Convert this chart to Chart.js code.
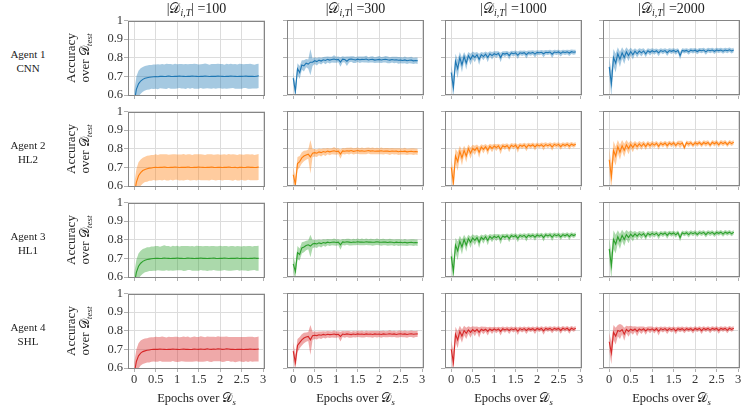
<!DOCTYPE html>
<html><head><meta charset="utf-8">
<script src="https://cdn.jsdelivr.net/npm/chart.js@4.4.0/dist/chart.umd.min.js"></script>
<style>
html,body{margin:0;padding:0;background:#fff;}
body{width:747px;height:407px;position:relative;overflow:hidden;font-family:"Liberation Serif",serif;color:#222;}
.t{position:absolute;white-space:nowrap;line-height:1;}
.ctr{text-align:center;}
.pan{position:absolute;}
sub{font-size:70%;vertical-align:-0.3em;line-height:0;}
.D{font-family:"DejaVu Sans","DejaVu Serif","Noto Sans",serif;font-style:normal;}
</style></head><body>
<script>
// ---------- data ----------
const agentNames = ["Agent 1","Agent 2","Agent 3","Agent 4"];
const agentTypes = ["CNN","HL2","HL1","SHL"];
const datasetSizes = [100,300,1000,2000];
const xTickValues = [0,0.5,1,1.5,2,2.5,3];
const yTickValues = [0.6,0.7,0.8,0.9,1];
const yTickLabels = ["0.6","0.7","0.8","0.9","1"];
const xTickLabels = ["0","0.5","1","1.5","2","2.5","3"];
const epochs = [0,.05,.1,.15,.2,.25,.3,.35,.4,.45,
 .5,.55,.6,.65,.7,.75,.8,.85,.9,.95,
 1,1.05,1.1,1.15,1.2,1.25,1.3,1.35,1.4,1.45,
 1.5,1.55,1.6,1.65,1.7,1.75,1.8,1.85,1.9,1.95,
 2,2.05,2.1,2.15,2.2,2.25,2.3,2.35,2.4,2.45,
 2.5,2.55,2.6,2.65,2.7,2.75,2.8,2.85,2.9];

// Agent 1 CNN
const cnn100Mean = [.56,.63,.66,.675,.684,.69,.693,.695,.697,.698,
 .699,.698,.700,.701,.699,.700,.702,.700,.699,.701,
 .700,.702,.701,.700,.699,.701,.700,.702,.701,.700,
 .699,.701,.700,.702,.701,.699,.700,.701,.700,.702,
 .701,.700,.699,.701,.700,.702,.701,.700,.699,.701,
 .700,.701,.702,.700,.701,.700,.699,.701,.703];
const cnn100Spread = [.06,.07,.07,.068,.066,.066,.065,.066,.064,.066,
 .065,.067,.064,.066,.065,.068,.064,.066,.065,.067,
 .065,.064,.066,.065,.067,.064,.066,.065,.067,.066,
 .065,.064,.066,.067,.065,.064,.066,.065,.067,.066,
 .065,.066,.064,.067,.065,.066,.064,.066,.065,.067,
 .066,.064,.065,.066,.067,.065,.064,.066,.065];
const cnn300Mean = [.69,.62,.74,.72,.76,.755,.77,.765,.775,.775,
 .783,.778,.786,.781,.788,.784,.79,.786,.789,.792,
 .788,.79,.776,.791,.789,.78,.79,.792,.789,.787,
 .791,.788,.79,.789,.792,.787,.789,.79,.786,.788,
 .79,.787,.789,.791,.788,.786,.789,.787,.788,.785,
 .786,.784,.787,.783,.785,.786,.782,.784,.783];
const cnn300Spread = [.03,.04,.03,.035,.025,.03,.022,.025,.07,.02,
 .018,.02,.016,.018,.015,.02,.016,.018,.015,.02,
 .016,.015,.025,.016,.015,.025,.016,.015,.018,.016,
 .015,.017,.015,.016,.018,.015,.016,.017,.015,.016,
 .018,.016,.015,.017,.018,.016,.015,.017,.016,.018,
 .017,.016,.018,.017,.016,.018,.017,.016,.017];
const cnn1000Mean = [.72,.64,.78,.74,.80,.76,.805,.77,.81,.79,
 .812,.80,.815,.79,.815,.805,.818,.80,.82,.81,
 .82,.815,.822,.80,.822,.818,.823,.81,.824,.82,
 .825,.812,.825,.822,.826,.815,.826,.823,.827,.818,
 .827,.825,.828,.82,.828,.826,.829,.818,.829,.827,
 .83,.822,.83,.827,.83,.824,.831,.828,.83];
const cnn1000Spread = [.04,.06,.04,.05,.03,.04,.025,.035,.02,.03,
 .02,.025,.015,.03,.015,.02,.014,.025,.013,.02,
 .013,.018,.012,.025,.012,.015,.012,.02,.012,.015,
 .012,.02,.012,.014,.012,.02,.012,.014,.012,.018,
 .012,.013,.012,.018,.012,.013,.012,.02,.012,.013,
 .012,.016,.012,.013,.012,.016,.012,.013,.012];
const cnn2000Mean = [.75,.66,.80,.77,.82,.79,.825,.80,.83,.81,
 .832,.815,.834,.82,.834,.825,.835,.82,.836,.828,
 .836,.83,.836,.825,.837,.832,.837,.826,.837,.833,
 .838,.83,.838,.81,.838,.834,.838,.83,.839,.835,
 .839,.832,.839,.836,.84,.83,.84,.836,.84,.833,
 .84,.837,.84,.834,.84,.836,.841,.835,.84];
const cnn2000Spread = [.05,.07,.045,.05,.035,.04,.03,.035,.025,.03,
 .02,.025,.015,.02,.015,.02,.014,.018,.013,.017,
 .013,.015,.012,.018,.012,.014,.012,.018,.012,.014,
 .012,.015,.012,.02,.012,.013,.012,.015,.012,.013,
 .012,.014,.012,.013,.012,.015,.012,.013,.012,.014,
 .012,.013,.012,.014,.012,.013,.012,.013,.012];

// Agent 2 HL2
const hl2_100Mean = [.55,.62,.655,.672,.683,.689,.693,.696,.697,.699,
 .700,.699,.701,.700,.702,.700,.699,.701,.700,.702,
 .701,.699,.700,.701,.700,.702,.700,.699,.701,.700,
 .702,.701,.700,.699,.701,.700,.702,.700,.699,.701,
 .700,.699,.701,.700,.702,.700,.699,.701,.698,.700,
 .701,.699,.700,.702,.700,.701,.699,.700,.702];
const hl2_100Spread = [.06,.07,.072,.07,.069,.068,.07,.068,.069,.067,
 .07,.068,.069,.071,.068,.07,.069,.068,.07,.069,
 .068,.07,.069,.071,.068,.069,.07,.068,.069,.07,
 .068,.07,.069,.068,.07,.071,.069,.068,.07,.069,
 .068,.07,.069,.068,.07,.069,.071,.068,.069,.07,
 .068,.069,.07,.068,.069,.07,.068,.069,.07];
const hl2_300Mean = [.66,.61,.72,.73,.75,.76,.765,.77,.755,.775,
 .778,.775,.782,.778,.784,.78,.786,.782,.785,.788,
 .784,.786,.77,.787,.785,.788,.786,.789,.785,.787,
 .789,.786,.788,.785,.787,.789,.786,.788,.785,.787,
 .786,.788,.785,.787,.786,.784,.787,.785,.786,.783,
 .785,.784,.786,.782,.784,.785,.783,.784,.782];
const hl2_300Spread = [.04,.04,.035,.03,.03,.028,.025,.025,.09,.022,
 .02,.02,.018,.02,.017,.02,.017,.018,.016,.02,
 .017,.016,.025,.016,.017,.016,.018,.016,.017,.016,
 .017,.016,.018,.016,.017,.016,.017,.018,.016,.017,
 .016,.018,.017,.016,.017,.018,.016,.017,.016,.018,
 .017,.016,.018,.017,.016,.017,.018,.016,.017];
const hl2_1000Mean = [.70,.62,.76,.73,.785,.75,.79,.76,.80,.775,
 .80,.79,.805,.78,.808,.795,.81,.79,.812,.80,
 .813,.805,.814,.795,.815,.808,.816,.80,.817,.81,
 .818,.80,.818,.812,.819,.805,.819,.813,.82,.808,
 .82,.814,.82,.81,.821,.815,.821,.808,.822,.816,
 .822,.81,.822,.816,.823,.812,.823,.817,.823];
const hl2_1000Spread = [.05,.06,.04,.05,.03,.04,.025,.035,.022,.03,
 .02,.025,.016,.03,.015,.022,.014,.025,.013,.02,
 .013,.018,.012,.025,.012,.016,.012,.02,.012,.015,
 .012,.022,.012,.014,.012,.02,.012,.014,.012,.018,
 .012,.013,.012,.02,.012,.013,.012,.02,.012,.013,
 .012,.017,.012,.013,.012,.017,.012,.013,.012];
const hl2_2000Mean = [.74,.65,.79,.76,.81,.78,.815,.79,.82,.80,
 .822,.805,.824,.81,.825,.812,.826,.81,.827,.815,
 .827,.818,.828,.812,.828,.82,.829,.815,.829,.821,
 .83,.816,.83,.822,.83,.805,.831,.823,.831,.818,
 .831,.824,.832,.82,.832,.825,.832,.818,.833,.825,
 .833,.82,.833,.826,.833,.821,.834,.826,.834];
const hl2_2000Spread = [.06,.07,.05,.05,.035,.04,.03,.035,.025,.03,
 .02,.025,.016,.02,.015,.02,.014,.018,.013,.017,
 .013,.015,.012,.018,.012,.014,.012,.018,.012,.014,
 .012,.015,.012,.02,.012,.013,.012,.015,.012,.013,
 .012,.014,.012,.013,.012,.015,.012,.013,.012,.014,
 .012,.013,.012,.014,.012,.013,.012,.013,.012];

// Agent 3 HL1
const hl1_100Mean = [.56,.625,.658,.674,.684,.69,.694,.696,.698,.699,
 .700,.701,.699,.700,.702,.701,.700,.699,.701,.700,
 .702,.700,.701,.699,.700,.702,.701,.700,.699,.701,
 .700,.702,.700,.701,.699,.700,.701,.702,.700,.699,
 .701,.700,.702,.701,.699,.700,.701,.700,.702,.699,
 .700,.701,.700,.699,.701,.700,.702,.700,.701];
const hl1_100Spread = [.06,.068,.068,.067,.066,.065,.066,.064,.066,.065,
 .067,.065,.064,.066,.068,.065,.066,.064,.067,.065,
 .066,.064,.065,.067,.066,.065,.064,.066,.065,.067,
 .066,.064,.065,.066,.067,.065,.066,.064,.065,.066,
 .067,.065,.064,.066,.065,.067,.066,.064,.065,.066,
 .064,.066,.065,.067,.066,.064,.065,.066,.067];
const hl1_300Mean = [.67,.63,.73,.72,.755,.76,.768,.772,.765,.776,
 .779,.776,.782,.778,.784,.781,.786,.783,.785,.787,
 .784,.786,.772,.787,.785,.788,.786,.784,.787,.785,
 .788,.786,.787,.785,.788,.786,.787,.785,.786,.788,
 .786,.785,.787,.786,.784,.786,.785,.783,.786,.784,
 .785,.783,.785,.782,.784,.785,.783,.784,.783];
const hl1_300Spread = [.045,.04,.035,.032,.03,.028,.025,.024,.06,.022,
 .02,.021,.018,.02,.017,.019,.017,.018,.016,.019,
 .017,.016,.026,.016,.017,.016,.018,.016,.017,.016,
 .017,.016,.018,.016,.017,.016,.017,.018,.016,.017,
 .016,.018,.017,.016,.017,.018,.016,.017,.016,.018,
 .017,.016,.018,.017,.016,.017,.018,.016,.017];
const hl1_1000Mean = [.71,.63,.77,.74,.79,.76,.80,.77,.805,.785,
 .808,.795,.81,.785,.812,.80,.815,.795,.816,.805,
 .817,.81,.818,.80,.819,.812,.82,.805,.821,.815,
 .821,.806,.822,.816,.822,.81,.823,.817,.823,.812,
 .824,.818,.824,.81,.825,.819,.825,.812,.826,.82,
 .826,.814,.826,.82,.827,.815,.827,.821,.827];
const hl1_1000Spread = [.05,.06,.04,.05,.03,.04,.025,.035,.02,.03,
 .02,.025,.016,.03,.015,.022,.014,.025,.013,.02,
 .013,.018,.012,.025,.012,.016,.012,.02,.012,.015,
 .012,.02,.012,.014,.012,.02,.012,.014,.012,.018,
 .012,.013,.012,.02,.012,.013,.012,.02,.012,.013,
 .012,.017,.012,.013,.012,.017,.012,.013,.012];
const hl1_2000Mean = [.75,.66,.80,.775,.815,.79,.822,.80,.826,.81,
 .828,.815,.83,.818,.831,.822,.832,.815,.833,.824,
 .833,.826,.834,.82,.834,.828,.835,.822,.835,.829,
 .835,.825,.836,.81,.836,.83,.836,.826,.837,.831,
 .837,.827,.837,.832,.838,.826,.838,.832,.838,.828,
 .838,.833,.839,.829,.839,.833,.839,.83,.839];
const hl1_2000Spread = [.06,.07,.05,.05,.035,.04,.03,.035,.025,.03,
 .02,.025,.016,.02,.015,.02,.014,.018,.013,.017,
 .013,.015,.012,.018,.012,.014,.012,.018,.012,.014,
 .012,.015,.012,.02,.012,.013,.012,.015,.012,.013,
 .012,.014,.012,.013,.012,.015,.012,.013,.012,.014,
 .012,.013,.012,.014,.012,.013,.012,.013,.012];

// Agent 4 SHL
const shl100Mean = [.57,.635,.665,.68,.688,.692,.695,.697,.699,.700,
 .701,.700,.702,.701,.700,.699,.701,.700,.702,.701,
 .700,.699,.701,.702,.700,.701,.699,.700,.702,.701,
 .700,.702,.701,.700,.703,.701,.700,.702,.701,.703,
 .702,.700,.701,.703,.702,.700,.701,.699,.700,.701,
 .700,.699,.701,.700,.702,.701,.700,.701,.702];
const shl100Spread = [.06,.065,.068,.067,.066,.066,.065,.067,.066,.065,
 .067,.066,.065,.068,.066,.065,.067,.066,.065,.067,
 .068,.066,.065,.067,.066,.068,.065,.066,.067,.065,
 .066,.068,.067,.065,.066,.067,.068,.066,.065,.067,
 .066,.068,.067,.066,.065,.067,.066,.068,.067,.065,
 .066,.067,.065,.068,.066,.067,.065,.066,.067];
const shl300Mean = [.69,.63,.72,.735,.75,.76,.765,.768,.75,.772,
 .775,.773,.777,.775,.779,.776,.78,.778,.779,.781,
 .778,.78,.768,.781,.779,.782,.78,.778,.781,.779,
 .782,.78,.781,.779,.782,.78,.781,.779,.782,.78,
 .781,.779,.782,.78,.781,.783,.78,.782,.779,.781,
 .783,.78,.782,.779,.781,.783,.78,.781,.782];
const shl300Spread = [.05,.04,.035,.03,.03,.028,.025,.024,.08,.022,
 .02,.021,.018,.02,.017,.019,.017,.018,.016,.019,
 .017,.016,.026,.016,.017,.016,.018,.016,.017,.016,
 .017,.016,.018,.016,.017,.016,.017,.018,.016,.017,
 .016,.018,.017,.016,.017,.018,.016,.017,.016,.018,
 .017,.016,.018,.017,.016,.017,.018,.016,.017];
const shl1000Mean = [.70,.63,.78,.75,.795,.77,.80,.785,.803,.79,
 .805,.795,.806,.79,.807,.80,.807,.795,.808,.80,
 .808,.802,.808,.795,.809,.803,.809,.80,.809,.804,
 .81,.796,.81,.804,.81,.80,.81,.805,.81,.80,
 .811,.805,.811,.798,.811,.806,.811,.802,.811,.806,
 .811,.80,.812,.806,.812,.80,.812,.806,.812];
const shl1000Spread = [.05,.06,.04,.045,.03,.035,.025,.03,.02,.028,
 .018,.025,.015,.028,.014,.02,.013,.022,.012,.018,
 .012,.016,.012,.022,.012,.015,.012,.018,.012,.014,
 .012,.02,.012,.014,.012,.018,.012,.013,.012,.018,
 .012,.013,.012,.02,.012,.013,.012,.017,.012,.013,
 .012,.017,.012,.013,.012,.017,.012,.013,.012];
const shl2000Mean = [.74,.68,.79,.77,.80,.795,.805,.78,.806,.795,
 .807,.80,.808,.795,.808,.802,.809,.798,.809,.803,
 .809,.80,.81,.796,.81,.804,.81,.80,.81,.804,
 .81,.798,.81,.805,.81,.801,.81,.805,.81,.80,
 .811,.805,.811,.799,.811,.805,.811,.802,.811,.806,
 .811,.80,.811,.806,.811,.801,.812,.806,.812];
const shl2000Spread = [.05,.06,.04,.045,.03,.04,.025,.035,.02,.028,
 .018,.022,.015,.025,.014,.02,.013,.02,.012,.018,
 .012,.016,.012,.022,.012,.015,.012,.018,.012,.014,
 .012,.018,.012,.014,.012,.016,.012,.013,.012,.016,
 .012,.013,.012,.018,.012,.013,.012,.016,.012,.013,
 .012,.017,.012,.013,.012,.016,.012,.013,.012];

const panelMeans = [
 [cnn100Mean, cnn300Mean, cnn1000Mean, cnn2000Mean],
 [hl2_100Mean, hl2_300Mean, hl2_1000Mean, hl2_2000Mean],
 [hl1_100Mean, hl1_300Mean, hl1_1000Mean, hl1_2000Mean],
 [shl100Mean, shl300Mean, shl1000Mean, shl2000Mean]];
const panelSpreads = [
 [cnn100Spread, cnn300Spread, cnn1000Spread, cnn2000Spread],
 [hl2_100Spread, hl2_300Spread, hl2_1000Spread, hl2_2000Spread],
 [hl1_100Spread, hl1_300Spread, hl1_1000Spread, hl1_2000Spread],
 [shl100Spread, shl300Spread, shl1000Spread, shl2000Spread]];

// ---------- styles / layout ----------
const lineColors = ["#1f77b4","#ff7f0e","#2ca02c","#d62728"];
const bandColors = ["rgba(31,119,180,0.4)","rgba(255,127,14,0.4)","rgba(44,160,44,0.4)","rgba(214,39,40,0.4)"];
const PL = [128,287,445,603], PT = [20,111,202,293];
const PW = 137, PH = 75, YW = 40, XH = 24, PAD = 8, PR = 3;
const FONT = "'Liberation Serif', serif";
const DS = '<span class="D">𝒟</span>';

function addText(html, left, top, cls, extra){
  const d = document.createElement('div');
  d.className = 't ' + (cls||'');
  d.innerHTML = html;
  d.style.left = left + 'px'; d.style.top = top + 'px';
  if (extra) Object.assign(d.style, extra);
  document.body.appendChild(d);
  return d;
}

const framePlugin = {
  id:'frame',
  afterDraw(chart){
    const {ctx, chartArea:a} = chart;
    ctx.save(); ctx.strokeStyle = '#858585'; ctx.lineWidth = 1;
    ctx.strokeRect(Math.round(a.left)+0.5, Math.round(a.top)+0.5, Math.round(a.right-a.left)-1, Math.round(a.bottom-a.top)-1);
    ctx.restore();
  }
};

function makePanel(r, c){
  const W = YW + PW + PR, H = PAD + PH + XH;
  const cv = document.createElement('canvas');
  cv.width = W; cv.height = H;
  cv.className = 'pan';
  cv.style.left = (PL[c]-YW) + 'px'; cv.style.top = (PT[r]-PAD) + 'px';
  cv.style.width = W + 'px'; cv.style.height = H + 'px';
  document.body.appendChild(cv);
  const mean = panelMeans[r][c], sp = panelSpreads[r][c];
  const lower = epochs.map((x,i)=>({x, y: mean[i]-sp[i]}));
  const upper = epochs.map((x,i)=>({x, y: mean[i]+sp[i]}));
  const mid = epochs.map((x,i)=>({x, y: mean[i]}));
  new Chart(cv, {
    type:'line',
    data:{datasets:[
      {data: lower, borderWidth:0, pointRadius:0, fill:false, borderColor:'rgba(0,0,0,0)'},
      {data: upper, borderWidth:0, pointRadius:0, fill:'-1', backgroundColor: bandColors[r], borderColor:'rgba(0,0,0,0)'},
      {data: mid, borderWidth:1.1, pointRadius:0, fill:false, borderColor: lineColors[r]}
    ]},
    options:{
      responsive:false, animation:false, devicePixelRatio:1,
      layout:{padding:{top:PAD, right:PR, left:0, bottom:0}},
      plugins:{legend:{display:false}, tooltip:{enabled:false}},
      elements:{line:{tension:0}},
      scales:{
        x:{type:'linear', min:-0.145, max:3.045,
          afterBuildTicks: s => { s.ticks = xTickValues.map(v=>({value:v})); },
          afterFit: s => { s.height = XH; },
          ticks:{display: r===3, maxRotation:0, autoSkip:false, padding:0, color:'#333',
            font:{family:FONT, size:12.5},
            callback:(v)=> xTickLabels[xTickValues.indexOf(v)] },
          grid:{color:'#dcdcdc', lineWidth:1, drawTicks:true, tickLength:4, tickColor:'#b0b0b0'},
          border:{display:false}},
        y:{type:'linear', min:0.6, max:1,
          afterBuildTicks: s => { s.ticks = yTickValues.map(v=>({value:v})); },
          afterFit: s => { s.width = YW; },
          ticks:{display: c===0, padding:1, color:'#333', autoSkip:false,
            font:{family:FONT, size:12.5},
            callback:(v)=> { const k = yTickValues.findIndex(t=>Math.abs(t-v)<1e-9); return yTickLabels[k]; } },
          grid:{color:'#dcdcdc', lineWidth:1, drawTicks:true, tickLength:4, tickColor:'#b0b0b0'},
          border:{display:false}}
      }
    },
    plugins:[framePlugin]
  });
}

for (let r=0;r<4;r++) for (let c=0;c<4;c++) makePanel(r,c);

// column titles and x-axis titles
datasetSizes.forEach((n,c)=>{
  addText('|' + DS + '<sub><i>i,T</i></sub>| =' + n, PL[c], 1, 'ctr', {width:PW+'px', fontSize:'14px'});
  addText('Epochs over ' + DS + '<sub><i>s</i></sub>', PL[c], 392, 'ctr', {width:PW+'px', fontSize:'12.5px'});
});
// row labels
agentNames.forEach((a,r)=>{
  const cy = PT[r] + PH/2;
  addText(a + '<br>' + agentTypes[r], 0, cy-11, 'ctr', {width:'56px', fontSize:'11px', lineHeight:'14px'});
  const yl = addText('Accuracy<br>over ' + DS + '<sub><i>test</i></sub>', 0, 0, 'ctr',
    {fontSize:'13px', lineHeight:'14px', width:'80px'});
  yl.style.left = (78 - 40) + 'px';
  yl.style.top = (cy - 14) + 'px';
  yl.style.transform = 'rotate(-90deg)';
  yl.style.transformOrigin = '40px 14px';
});
</script>
</body></html>
